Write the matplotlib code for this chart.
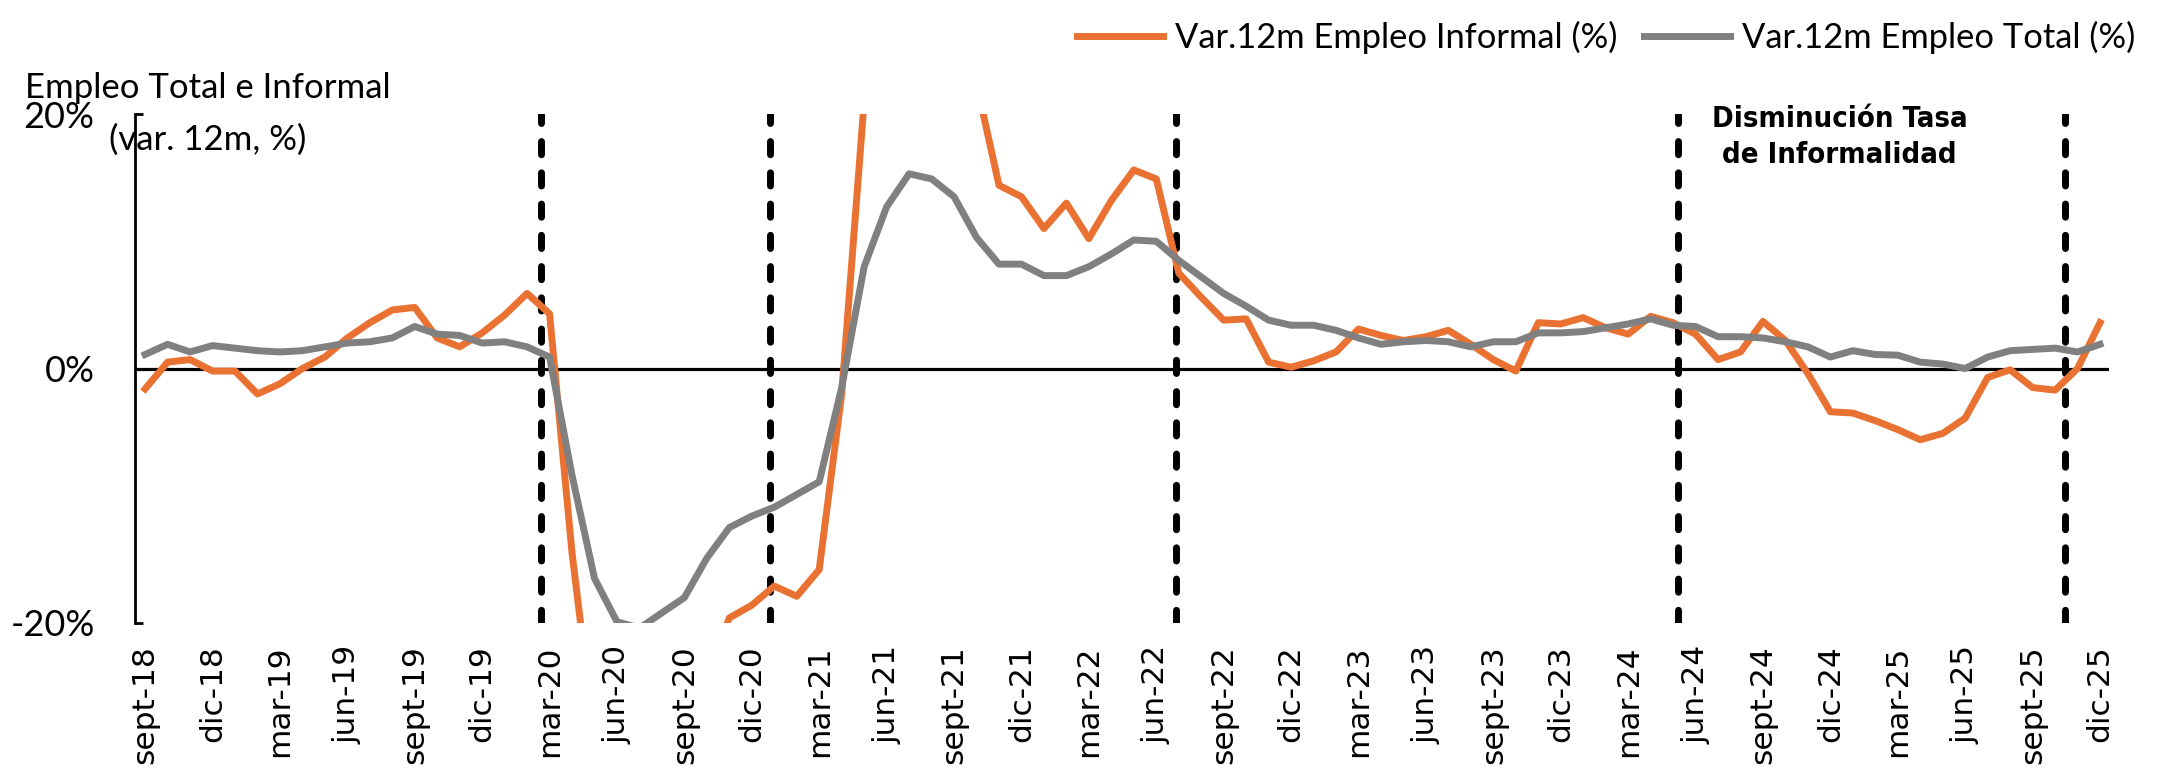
import matplotlib.pyplot as plt
from matplotlib import font_manager

# Var. 12 meses (%), trimestres moviles sept-18 .. dic-25
informal = [-1.6, 0.5, 0.7, -0.2, -0.2, -2.0, -1.2, 0.0, 0.9, 2.4,
            3.6, 4.6, 4.8, 2.4, 1.7, 2.8, 4.2, 5.9, 4.3, -14.5,
            -29.0, -37.0, -36.0, -33.0, -29.0, -24.0, -19.6, -18.6, -17.1, -17.9,
            -15.8, -2.0, 21.0, 36.0, 42.0, 38.0, 30.0, 22.4, 14.4, 13.5,
            11.0, 13.0, 10.2, 13.2, 15.6, 14.9, 7.5, 5.6, 3.8, 3.9,
            0.5, 0.1, 0.6, 1.3, 3.1, 2.6, 2.2, 2.5, 3.0, 1.9,
            0.7, -0.2, 3.6, 3.5, 4.0, 3.2, 2.7, 4.1, 3.6, 2.7,
            0.7, 1.3, 3.7, 2.2, -0.4, -3.4, -3.5, -4.1, -4.8, -5.6,
            -5.1, -3.9, -0.7, -0.1, -1.5, -1.7, 0.0, 3.6]

total = [1.1, 1.9, 1.3, 1.8, 1.6, 1.4, 1.3, 1.4, 1.7, 2.0,
         2.1, 2.4, 3.3, 2.7, 2.6, 2.0, 2.1, 1.7, 0.9, -8.4,
         -16.5, -19.9, -20.4, -19.2, -18.0, -14.9, -12.5, -11.6, -10.9, -9.9,
         -8.9, -1.5, 8.0, 12.7, 15.3, 14.9, 13.5, 10.3, 8.2, 8.2,
         7.3, 7.3, 8.0, 9.0, 10.1, 10.0, 8.5, 7.2, 5.9, 4.9,
         3.8, 3.4, 3.4, 3.0, 2.4, 1.9, 2.1, 2.2, 2.1, 1.7,
         2.1, 2.1, 2.8, 2.8, 2.9, 3.2, 3.5, 3.9, 3.4, 3.3,
         2.5, 2.5, 2.4, 2.1, 1.7, 0.9, 1.4, 1.1, 1.05, 0.5,
         0.35, 0.0, 0.9, 1.4, 1.5, 1.6, 1.3, 1.9]

tick_labels = ['sept-18', 'dic-18', 'mar-19', 'jun-19', 'sept-19', 'dic-19',
               'mar-20', 'jun-20', 'sept-20', 'dic-20', 'mar-21', 'jun-21',
               'sept-21', 'dic-21', 'mar-22', 'jun-22', 'sept-22', 'dic-22',
               'mar-23', 'jun-23', 'sept-23', 'dic-23', 'mar-24', 'jun-24',
               'sept-24', 'dic-24', 'mar-25', 'jun-25', 'sept-25', 'dic-25']

# hitos (posicion en meses desde sept-18)
hitos = [17.6, 27.8, 45.9, 68.2, 85.45]

y_ticks = [-20, 0, 20]
y_labels = ['-20%', '0%', '20%']

naranjo = '#E97132'
gris = '#808080'

# fuente angosta para la anotacion, si existe
fl = font_manager.fontManager.ttflist
names = {f.name for f in fl}
if 'Liberation Sans Narrow' in names:
    anot = dict(family='Liberation Sans Narrow', fontsize=26)
elif any(f.name == 'DejaVu Sans' and f.stretch == 'condensed' for f in fl):
    anot = dict(family='DejaVu Sans', fontstretch='condensed', fontsize=21)
else:
    anot = dict(family='Liberation Sans', fontsize=22)

W, H = 2163, 783
fig = plt.figure(figsize=(W / 100, H / 100), dpi=100)
ax = fig.add_axes([135 / W, 1 - 623 / H, 1974 / W, (623 - 114) / H])

x = list(range(len(informal)))

ax.axhline(0, color='black', lw=2.3, zorder=1)

for h in hitos:
    ax.axvline(h, color='black', lw=5, linestyle=(0, (1.9, 2.6)),
               dash_capstyle='round', zorder=3)

ax.plot(x, informal, color=naranjo, lw=5, zorder=4,
        label='Var.12m Empleo Informal (%)')
ax.plot(x, total, color=gris, lw=5, zorder=5,
        label='Var.12m Empleo Total (%)')

ax.set_xlim(-0.45, 87.4)
ax.set_ylim(-20, 20)

for s in ['top', 'right', 'bottom']:
    ax.spines[s].set_visible(False)
ax.spines['left'].set_linewidth(2)

ax.set_yticks(y_ticks)
ax.set_yticklabels(y_labels, family='Lato', fontsize=26)
ax.tick_params(axis='y', direction='in', length=6, width=2, pad=29)

ax.set_xticks(x[::3])
ax.set_xticklabels(tick_labels, rotation=90, family='DejaVu Sans', fontsize=22.5)
ax.tick_params(axis='x', length=0, pad=16)

ax.text(75.4, 18.2, 'Disminución Tasa\nde Informalidad', ha='center', va='center',
        fontweight='bold', linespacing=1.35, **anot)

fig.text(208 / W, 1 - 98 / H, 'Empleo Total e Informal', ha='center',
         va='baseline', family='Lato', fontsize=25)
fig.text(208 / W, 1 - 150 / H, '(var. 12m, %)', ha='center',
         va='baseline', family='Lato', fontsize=25)

fig.legend(loc='center right', bbox_to_anchor=(2135 / W, 1 - 37 / H), ncol=2,
           frameon=False, prop={'family': 'Lato', 'size': 24.8},
           handlelength=2.5, handletextpad=0.35, columnspacing=0.75,
           borderpad=0, borderaxespad=0)

fig.savefig('out.png', dpi=100)
